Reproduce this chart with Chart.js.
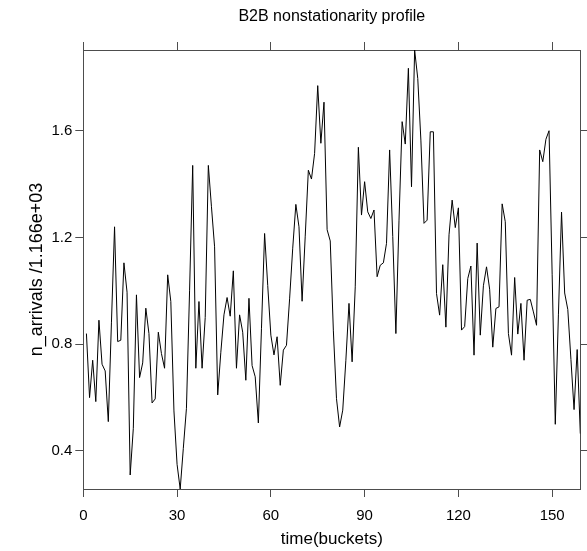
<!DOCTYPE html>
<html>
<head>
<meta charset="utf-8">
<script src="https://cdn.jsdelivr.net/npm/chart.js@4.4.1/dist/chart.umd.min.js"></script>
<style>
  html, body { margin: 0; padding: 0; background: #fff; }
  #wrap { width: 587px; height: 551px; }
</style>
</head>
<body>
<div id="wrap"><canvas id="profile" width="587" height="551"></canvas></div>
<script>
/*** data ***/
const chartTitle = 'B2B nonstationarity profile';
const xTitle = 'time(buckets)';
const yTitle = 'n_arrivals /1.166e+03';

// buckets start at 1, one value per bucket
const firstBucket = 1;
const arrivals = [
  0.84, 0.60, 0.74, 0.585, 0.89, 0.725, 0.70, 0.51, 0.88, 1.24,
  0.81, 0.815, 1.105, 0.995, 0.31, 0.485, 0.985, 0.675, 0.73, 0.935,
  0.84, 0.58, 0.595, 0.845, 0.765, 0.71, 1.06, 0.96, 0.55, 0.35,
  0.2575, 0.41, 0.56, 1.0, 1.47, 0.71, 0.96, 0.71, 0.9, 1.47,
  1.315, 1.165, 0.61, 0.77, 0.91, 0.975, 0.905, 1.075, 0.71, 0.91,
  0.845, 0.665, 0.972, 0.72, 0.678, 0.505, 0.86, 1.215, 1.02, 0.834,
  0.76, 0.828, 0.646, 0.778, 0.796, 0.97, 1.16, 1.324, 1.24, 0.961,
  1.205, 1.452, 1.419, 1.515, 1.769, 1.553, 1.707, 1.229, 1.187, 0.85,
  0.596, 0.49, 0.553, 0.74, 0.953, 0.734, 1.015, 1.538, 1.284, 1.409,
  1.296, 1.271, 1.303, 1.053, 1.096, 1.105, 1.178, 1.528, 1.203, 0.84,
  1.265, 1.634, 1.55, 1.834, 1.39, 1.9025, 1.796, 1.565, 1.253, 1.265,
  1.596, 1.596, 0.99, 0.909, 1.098, 0.864, 1.21, 1.34, 1.237, 1.311,
  0.853, 0.866, 1.046, 1.093, 0.759, 1.179, 0.834, 1.019, 1.09, 1.006,
  0.789, 0.934, 0.94, 1.326, 1.259, 0.84, 0.759, 1.05, 0.838, 0.953,
  0.74, 0.965, 0.968, 0.921, 0.871, 1.528, 1.484, 1.568, 1.6, 1.06,
  0.5, 0.91, 1.295, 0.992, 0.93, 0.743, 0.555, 0.78, 0.465
];

const xTicks = [0, 30, 60, 90, 120, 150];
const yTicks = [0.4, 0.8, 1.2, 1.6];
const xLimits = [0, 159];
const yLimits = [0.2575, 1.9025];

/*** style ***/
const fontFamily = '"Liberation Sans", Arial, Helvetica, sans-serif';
const frameColor = '#4d4d4d';
const textColor = '#000';

const points = arrivals.map((v, i) => ({ x: firstBucket + i, y: v }));

function frameScale(position, limits, tickValues, showLabels, size) {
  const horizontal = position === 'top' || position === 'bottom';
  return {
    type: 'linear',
    position: position,
    min: limits[0],
    max: limits[1],
    afterBuildTicks: (scale) => {
      scale.ticks = tickValues.map((v) => ({ value: v }));
    },
    afterFit: (scale) => {
      if (horizontal) scale.height = size;
      else scale.width = size;
    },
    border: { display: true, color: frameColor, width: 1 },
    grid: {
      display: true,
      drawOnChartArea: false,
      drawTicks: true,
      tickLength: 8,
      color: frameColor,
      tickColor: frameColor,
    },
    ticks: {
      display: showLabels,
      color: textColor,
      padding: horizontal ? 10 : 3,
      maxRotation: 0,
      font: { family: fontFamily, size: 15 },
      callback: (value) => (horizontal ? value : value.toFixed(1)),
    },
  };
}

const xScale = frameScale('bottom', xLimits, xTicks, true, 62);
xScale.title = {
  display: true,
  text: xTitle,
  color: textColor,
  font: { family: fontFamily, size: 17 },
  padding: { top: 0, bottom: 1 },
};
const yScale = frameScale('left', yLimits, yTicks, true, 83.3);
yScale.title = {
  display: true,
  text: yTitle,
  color: textColor,
  font: { family: fontFamily, size: 18 },
  padding: { top: 26, bottom: 0 },
};

new Chart(document.getElementById('profile'), {
  type: 'line',
  data: {
    datasets: [
      {
        label: 'n_arrivals',
        data: points,
        borderColor: '#000',
        borderWidth: 1,
        pointRadius: 0,
        tension: 0,
        fill: false,
      },
    ],
  },
  options: {
    responsive: false,
    animation: false,
    devicePixelRatio: 1,
    layout: { padding: 0 },
    plugins: {
      legend: { display: false },
      tooltip: { enabled: false },
      title: {
        display: true,
        fullSize: false,
        align: 'center',
        text: chartTitle,
        color: textColor,
        font: { family: fontFamily, size: 16, weight: 'normal' },
        padding: { top: 7, bottom: 4 },
      },
    },
    scales: {
      x: xScale,
      x2: frameScale('top', xLimits, xTicks, false, 19.8),
      y: yScale,
      y2: frameScale('right', yLimits, yTicks, false, 6.7),
    },
  },
});
</script>
</body>
</html>
